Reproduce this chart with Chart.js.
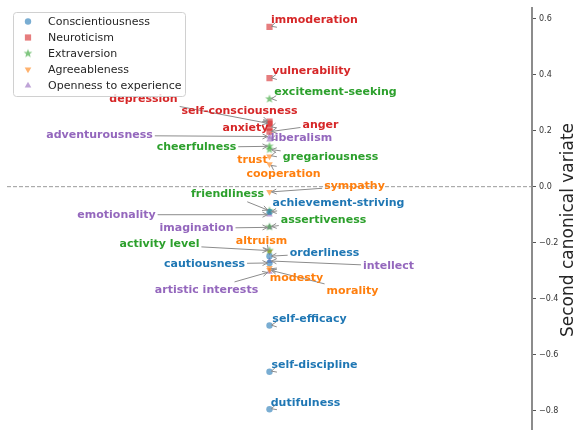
<!DOCTYPE html>
<html>
<head>
<meta charset="utf-8">
<script src="https://cdn.jsdelivr.net/npm/chart.js@4"></script>
<style>
  body { margin: 0; background: #fff; }
  canvas { display: block; }
</style>
</head>
<body>
<canvas id="chart" width="577" height="437"></canvas>
<script>
// domains (one dataset each)
const domains = ['Conscientiousness', 'Neuroticism', 'Extraversion', 'Agreeableness', 'Openness to experience'];

// facets and second canonical variate loadings
const consFacets = ['self-efficacy', 'orderliness', 'dutifulness', 'achievement-striving', 'self-discipline', 'cautiousness'];
const consValues = [-0.495, -0.248, -0.794, -0.090, -0.660, -0.272];

const neurFacets = ['anxiety', 'anger', 'depression', 'self-consciousness', 'immoderation', 'vulnerability'];
const neurValues = [0.211, 0.196, 0.225, 0.232, 0.570, 0.387];

const extrFacets = ['friendliness', 'gregariousness', 'assertiveness', 'activity level', 'excitement-seeking', 'cheerfulness'];
const extrValues = [-0.086, 0.133, -0.143, -0.228, 0.313, 0.144];

const agreFacets = ['trust', 'morality', 'altruism', 'cooperation', 'modesty', 'sympathy'];
const agreValues = [0.108, -0.297, -0.232, 0.080, -0.290, -0.019];

const openFacets = ['imagination', 'artistic interests', 'emotionality', 'adventurousness', 'intellect', 'liberalism'];
const openValues = [-0.145, -0.304, -0.100, 0.179, -0.265, 0.168];

const yTicks = [-0.8, -0.6, -0.4, -0.2, 0.0, 0.2, 0.4, 0.6];

// label placement (pixel offset of text centre from its point)
const consOffsets = [[40, -6], [55, -3], [36, -6], [69, -9], [45, -7], [-65, 1]];
const neurOffsets = [[-24, 1], [51, -7], [-126, -24], [-30, -10], [45, -7], [42, -7]];
const extrOffsets = [[-42, -17], [61, 8], [54, -7], [-110, -6], [66, -7], [-73, 1]];
const agreOffsets = [[-17, 4], [83, 21], [-8, -11], [14, 10], [27, 10], [85, -6]];
const openOffsets = [[-73, 1], [-63, 18], [-153, 0], [-170, -1], [119, 5], [32, -1]];

const colors = ['#1f77b4', '#d62728', '#2ca02c', '#ff7f0e', '#9467bd'];
const fills = ['rgba(31,119,180,0.6)', 'rgba(214,39,40,0.6)', 'rgba(44,160,44,0.6)', 'rgba(255,127,14,0.6)', 'rgba(148,103,189,0.6)'];

function starImage(color) {
    const c = document.createElement('canvas');
    c.width = 12; c.height = 12;
    const g = c.getContext('2d');
    g.fillStyle = color;
    g.beginPath();
    for (let i = 0; i < 10; i++) {
        const r = i % 2 ? 1.9 : 4.6;
        const a = -Math.PI / 2 + i * Math.PI / 5;
        g.lineTo(6 + r * Math.cos(a), 6 + r * Math.sin(a));
    }
    g.closePath();
    g.fill();
    return c;
}

const star = starImage(fills[2]);
const markers = [
    { pointStyle: 'circle', radius: 3.2, rotation: 0 },
    { pointStyle: 'rect', radius: 4.4, rotation: 0 },
    { pointStyle: star, radius: 5, rotation: 0 },
    { pointStyle: 'triangle', radius: 3.8, rotation: 180 },
    { pointStyle: 'triangle', radius: 3.8, rotation: 0 }
];

const facetLists = [consFacets, neurFacets, extrFacets, agreFacets, openFacets];
const valueLists = [consValues, neurValues, extrValues, agreValues, openValues];
const offsetLists = [consOffsets, neurOffsets, extrOffsets, agreOffsets, openOffsets];

const datasets = domains.map((name, d) => ({
    label: name,
    data: valueLists[d].map(v => ({ x: 0, y: v })),
    facets: facetLists[d],
    offsets: offsetLists[d],
    backgroundColor: fills[d],
    borderWidth: 0,
    pointStyle: markers[d].pointStyle,
    pointRadius: markers[d].radius,
    rotation: markers[d].rotation
}));

const labelFont = 'bold 11px "DejaVu Sans"';

const annotate = {
    id: 'annotate',
    beforeDatasetsDraw(chart) {
        const { ctx, chartArea, scales: { y } } = chart;
        const py = y.getPixelForValue(0);
        ctx.save();
        ctx.strokeStyle = '#9a9a9a';
        ctx.lineWidth = 1;
        ctx.setLineDash([4, 2]);
        ctx.beginPath();
        ctx.moveTo(chartArea.left, py);
        ctx.lineTo(chartArea.right, py);
        ctx.stroke();
        ctx.restore();
    },
    afterDatasetsDraw(chart) {
        const ctx = chart.ctx;
        ctx.save();
        ctx.font = labelFont;
        ctx.textBaseline = 'middle';
        ctx.textAlign = 'center';
        const items = [];
        chart.data.datasets.forEach((ds, di) => {
            chart.getDatasetMeta(di).data.forEach((el, i) => {
                items.push({ px: el.x, py: el.y, tx: el.x + ds.offsets[i][0], ty: el.y + ds.offsets[i][1], text: ds.facets[i], color: colors[di] });
            });
        });
        // arrows
        ctx.strokeStyle = '#8c8c8c';
        ctx.lineWidth = 1;
        items.forEach(it => {
            const hw = ctx.measureText(it.text).width / 2 + 2;
            const hh = 8;
            let vx = it.px - it.tx, vy = it.py - it.ty;
            let t = 1;
            if (vx !== 0) t = Math.min(t, hw / Math.abs(vx));
            if (vy !== 0) t = Math.min(t, hh / Math.abs(vy));
            const sx = it.tx + vx * t, sy = it.ty + vy * t;
            let dx = sx - it.px, dy = sy - it.py;
            let len = Math.hypot(dx, dy);
            if (len < 0.01) { dx = 1; dy = -0.3; len = Math.hypot(dx, dy); }
            const ux = dx / len, uy = dy / len;
            const tipx = it.px + ux * 2, tipy = it.py + uy * 2;
            ctx.beginPath();
            if (len > 2) { ctx.moveTo(sx, sy); ctx.lineTo(tipx, tipy); }
            const bx = tipx + ux * 5, by = tipy + uy * 5;
            ctx.moveTo(bx - uy * 2.5, by + ux * 2.5);
            ctx.lineTo(tipx, tipy);
            ctx.lineTo(bx + uy * 2.5, by - ux * 2.5);
            ctx.stroke();
        });
        // texts
        items.forEach(it => {
            ctx.fillStyle = it.color;
            ctx.fillText(it.text, it.tx, it.ty);
        });
        ctx.restore();
    },
    afterDraw(chart) {
        const ctx = chart.ctx;
        ctx.save();
        // legend box
        ctx.fillStyle = 'rgba(255,255,255,0.8)';
        ctx.strokeStyle = '#d0d0d0';
        ctx.lineWidth = 1;
        ctx.beginPath();
        ctx.roundRect(13.5, 12.5, 172, 84, 3);
        ctx.fill();
        ctx.stroke();
        ctx.font = '11px "DejaVu Sans"';
        ctx.textBaseline = 'middle';
        ctx.textAlign = 'left';
        domains.forEach((name, d) => {
            const yy = 21.5 + d * 16;
            const m = markers[d];
            ctx.fillStyle = fills[d];
            Chart.helpers.drawPoint(ctx, { pointStyle: m.pointStyle, radius: m.radius, rotation: m.rotation, borderWidth: 0 }, 28, yy);
            ctx.fillStyle = '#262626';
            ctx.fillText(name, 48, yy + 0.5);
        });
        // y axis title, reading bottom to top
        ctx.font = '17px "DejaVu Sans"';
        ctx.fillStyle = '#262626';
        ctx.textAlign = 'center';
        ctx.translate(569, 230);
        ctx.rotate(-Math.PI / 2);
        ctx.fillText('Second canonical variate', 0, 0);
        ctx.restore();
    }
};

new Chart(document.getElementById('chart').getContext('2d'), {
    type: 'scatter',
    data: { datasets },
    options: {
        responsive: false,
        animation: false,
        layout: { padding: { left: 7, top: 7, bottom: 4, right: 0 } },
        plugins: {
            legend: { display: false },
            tooltip: { enabled: false }
        },
        scales: {
            x: { display: false, min: -1, max: 1 },
            y: {
                position: 'right',
                min: -0.865,
                max: 0.638,
                afterBuildTicks: s => { s.ticks = yTicks.map(v => ({ value: v })); },
                afterFit: s => { s.width = 45; },
                border: { display: true, color: '#8c8c8c', width: 2 },
                grid: { display: true, drawOnChartArea: false, drawTicks: true, tickLength: 4, color: '#555' },
                ticks: {
                    padding: 3,
                    color: '#333',
                    font: { family: 'DejaVu Sans', size: 8 },
                    callback: v => v.toFixed(1).replace('-', '\u2212')
                }
            }
        }
    },
    plugins: [annotate]
});
</script>
</body>
</html>
